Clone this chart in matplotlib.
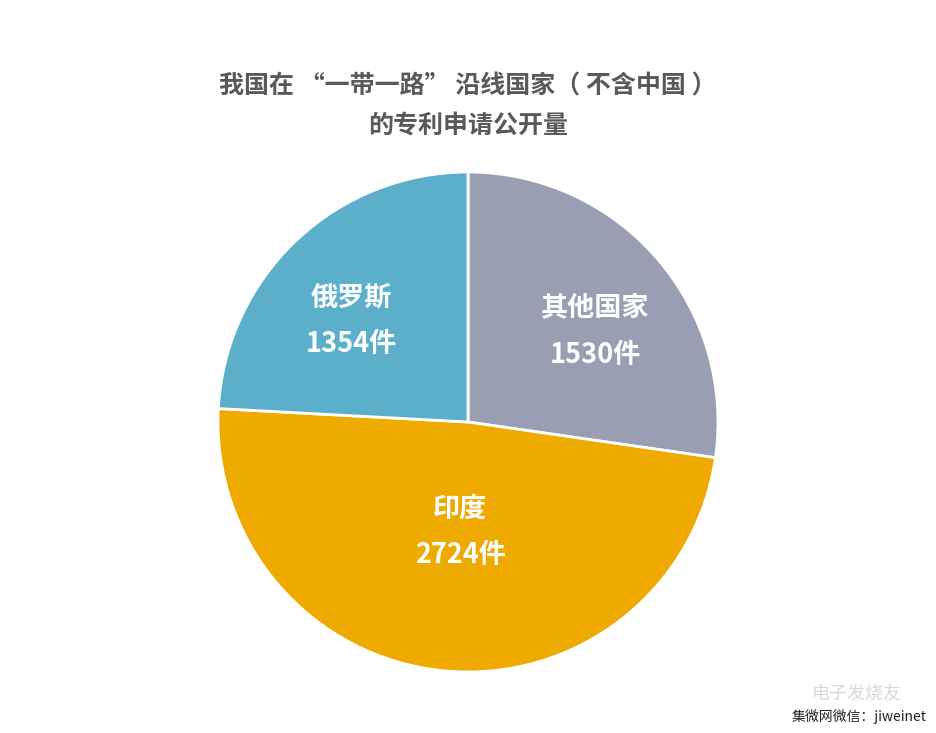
import numpy as np
import matplotlib
matplotlib.use("Agg")
from matplotlib import pyplot as plt

plt.rcParams['font.family'] = ['Noto Sans CJK SC', 'DejaVu Sans']

# Dados
paises = ['其他国家', '印度', '俄罗斯']
pedidos = [1530, 2724, 1354]
cores = ['#9A9EB3', '#EFAA00', '#5BAFCB']
titulo = '我国在 “一带一路” 沿线国家（ 不含中国 ）\n的专利申请公开量'

figura = plt.figure(figsize=(9.36, 7.33), dpi=100)
figura.patch.set_facecolor('white')

# eixo do pizza: centro (468, 422), raio 250 px
ax = figura.add_axes([218 / 936, 61 / 733, 500 / 936, 500 / 733])
fatias, _ = ax.pie(pedidos, colors=cores, startangle=90, counterclock=False,
                   radius=1.0, wedgeprops=dict(edgecolor='white', linewidth=2))
ax.set_xlim(-1, 1)
ax.set_ylim(-1, 1)
ax.set_aspect('equal')
ax.axis('off')

# Rótulos dentro das fatias (posição em unidades do raio)
pos_rotulos = [(0.51, 0.36), (-0.03, -0.44), (-0.465, 0.405)]
for (x, y), nome, n in zip(pos_rotulos, paises, pedidos):
    ax.text(x, y, f'{nome}\n{n}件', ha='center', va='center', color='white',
            fontsize=19.5, fontweight='bold', linespacing=1.85)

# Título
figura.text(0.5, 1 - 106 / 733, titulo, ha='center', va='center',
            fontsize=18, fontweight='bold', color='#595959', linespacing=1.8)

# Marca d'água
figura.text(0.915, 1 - 693 / 733, '电子发烧友', ha='center', va='center',
            fontsize=13, color='#D8D8DE', style='italic')
figura.text(0.99, 1 - 717 / 733, '集微网微信：jiweinet', ha='right', va='center',
            fontsize=10, color='#222222')

figura.savefig('out.png', dpi=100, facecolor='white')
